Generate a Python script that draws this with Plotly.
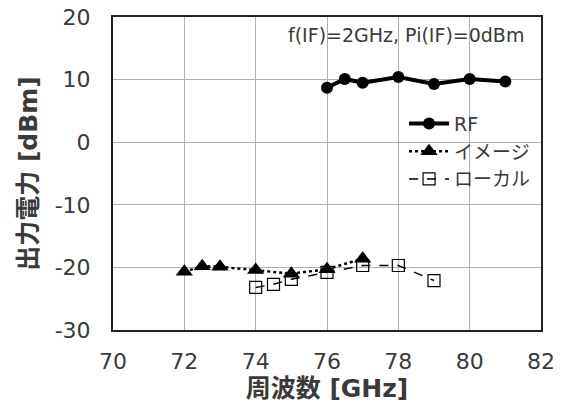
import plotly.graph_objects as go

rf_x = [76, 76.5, 77, 78, 79, 80, 81]
rf_y = [8.7, 10.1, 9.5, 10.4, 9.3, 10.1, 9.7]

img_x = [72, 72.5, 73, 74, 75, 76, 77]
img_y = [-20.7, -19.8, -19.9, -20.4, -21.0, -20.3, -18.6]

lo_x = [74, 74.5, 75, 76, 77, 78, 79]
lo_y = [-23.2, -22.7, -21.9, -20.8, -19.7, -19.7, -22.1]

x_ticks = [70, 72, 74, 76, 78, 80, 82]
y_ticks = [-30, -20, -10, 0, 10, 20]
y_ticktext = ["-30", "-20", "-10", "0", "10", "20"]

FONT = "DejaVu Sans, Noto Sans CJK JP, sans-serif"
TXT = "#3a3a3a"

fig = go.Figure()
fig.add_trace(go.Scatter(x=rf_x, y=rf_y, name="RF", mode="lines+markers",
                         line=dict(color="black", width=4),
                         marker=dict(symbol="circle", size=12, color="black")))
fig.add_trace(go.Scatter(x=img_x, y=img_y, name="イメージ", mode="lines+markers",
                         line=dict(color="black", width=2.5, dash="dot"),
                         marker=dict(symbol="triangle-up", size=15, color="black")))
fig.add_trace(go.Scatter(x=lo_x, y=lo_y, name="ローカル", mode="lines+markers",
                         line=dict(color="black", width=1.5, dash="dash"),
                         marker=dict(symbol="square-open", size=12, color="black",
                                     line=dict(width=1.2))))

fig.update_layout(
    width=568, height=414,
    margin=dict(l=113, r=27, t=17, b=84, autoexpand=False),
    paper_bgcolor="white", plot_bgcolor="white",
    font=dict(family=FONT, size=19, color=TXT),
    showlegend=True,
    legend=dict(x=0.68, y=0.72, xanchor="left", yanchor="top",
                font=dict(size=19, color=TXT), tracegroupgap=0,
                bgcolor="rgba(0,0,0,0)", itemwidth=40),
    annotations=[dict(text="f(IF)=2GHz, Pi(IF)=0dBm", xref="paper", yref="paper",
                      x=0.965, y=0.985, xanchor="right", yanchor="top", showarrow=False,
                      font=dict(size=19, color=TXT))],
)
fig.update_xaxes(range=[70, 82], tickvals=x_ticks, showgrid=True, gridcolor="#b0b0b0",
                 gridwidth=1, showline=True, linecolor="#222222", linewidth=2, mirror=True,
                 zeroline=False, ticks="outside", ticklen=0, ticklabelstandoff=11,
                 tickfont=dict(size=22), automargin=False,
                 title=dict(text="<b>周波数 [GHz]</b>", font=dict(size=25, color=TXT),
                            standoff=6))
fig.update_yaxes(range=[-30, 20], tickvals=y_ticks, ticktext=y_ticktext, showgrid=True,
                 gridcolor="#b0b0b0",
                 gridwidth=1, showline=True, linecolor="#222222", linewidth=2, mirror=True,
                 zeroline=False, ticks="outside", ticklen=0, ticklabelstandoff=16,
                 tickfont=dict(size=22), automargin=False,
                 title=dict(text="<b>出力電力 [dBm]</b>", font=dict(size=25, color=TXT),
                            standoff=10))

fig.write_html("out.html")
